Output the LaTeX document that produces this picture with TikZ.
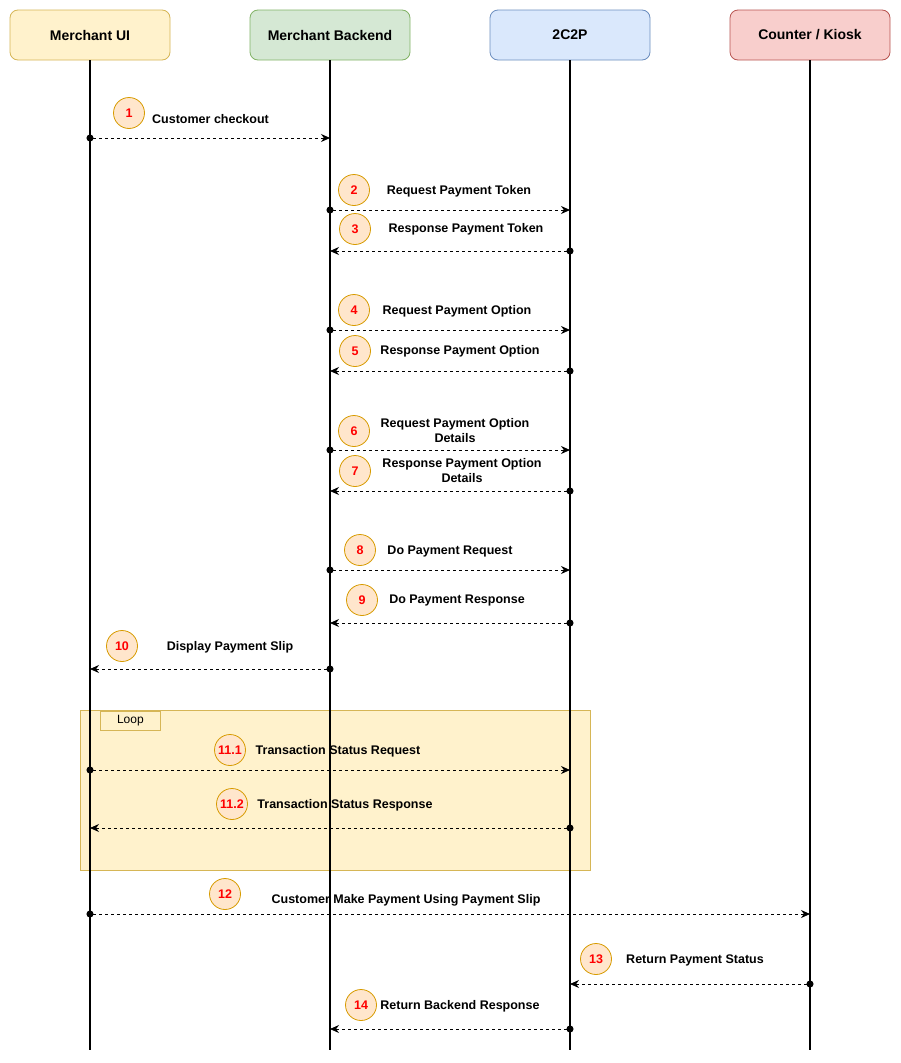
\documentclass[tikz,border=0pt]{standalone}
\usepackage{fontspec}
\setmainfont{Liberation Sans}
\usetikzlibrary{arrows.meta}

\definecolor{uifill}{HTML}{FFF2CC}
\definecolor{uidraw}{HTML}{D6B656}
\definecolor{mbfill}{HTML}{D5E8D4}
\definecolor{mbdraw}{HTML}{82B366}
\definecolor{pgfill}{HTML}{DAE8FC}
\definecolor{pgdraw}{HTML}{6C8EBF}
\definecolor{ckfill}{HTML}{F8CECC}
\definecolor{ckdraw}{HTML}{B85450}
\definecolor{badgefill}{HTML}{FFE6CC}
\definecolor{badgedraw}{HTML}{D79B00}

\tikzset{
    actor/.style={draw, rounded corners=8pt, minimum width=160pt, minimum height=50pt,
                  font=\fontsize{14}{16}\selectfont\bfseries, line width=0.8pt},
    life/.style={line width=1.6pt},
    msg/.style={dashed, dash pattern=on 3pt off 3pt, line width=0.8pt, shorten <=-3.5pt,
                {Circle[length=7pt]}-{Stealth[length=9pt,width=8pt]}},
    badge/.style={circle, draw=badgedraw, fill=badgefill, minimum size=31pt, inner sep=0pt,
                  line width=0.8pt, text=red, font=\fontsize{12.5}{14}\selectfont\bfseries},
    lbl/.style={align=center, inner sep=0pt, font=\fontsize{12.5}{15}\selectfont\bfseries}
}

\begin{document}
\begin{tikzpicture}[x=1pt, y=-1pt]
    \useasboundingbox[fill=white] (0,0) rectangle (901,1063);

    % loop frame
    \node[draw=uidraw, fill=uifill, line width=0.8pt, minimum width=510pt, minimum height=160pt,
          anchor=north west] (loop) at (80,710) {};
    \node[draw=uidraw, line width=0.8pt, minimum width=60pt, minimum height=19pt, inner sep=0pt,
          anchor=north west, font=\fontsize{12}{14}\selectfont] (looptab) at (100,711) {Loop};

    % actors
    \node[actor, fill=uifill, draw=uidraw] (ui) at (90,35) {Merchant UI};
    \node[actor, fill=mbfill, draw=mbdraw] (mb) at (330,35) {Merchant Backend};
    \node[actor, fill=pgfill, draw=pgdraw] (pg) at (570,35) {2C2P};
    \node[actor, fill=ckfill, draw=ckdraw] (ck) at (810,35) {Counter / Kiosk};

    % lifelines
    \foreach \a/\x in {ui/90, mb/330, pg/570, ck/810} {
        \coordinate (\a-end) at (\x,1050);
        \draw[life] (\a.south) -- (\a-end);
    }

    % messages
    \foreach \n/\from/\to/\y in {1/90/330/138, 2/330/570/210, 3/570/330/251,
                                 4/330/570/330, 5/570/330/371, 6/330/570/450,
                                 7/570/330/491, 8/330/570/570, 9/570/330/623,
                                 10/330/90/669, 11a/90/570/770, 11b/570/90/828,
                                 12/90/810/914, 13/810/570/984, 14/570/330/1029} {
        \coordinate (m\n-s) at (\from,\y);
        \coordinate (m\n-e) at (\to,\y);
        \draw[msg] (m\n-s) -- (m\n-e);
    }

    % badges
    \node[badge] (b1) at (129,113) {1};
    \node[badge] (b2) at (354,190) {2};
    \node[badge] (b3) at (355,229) {3};
    \node[badge] (b4) at (354,310) {4};
    \node[badge] (b5) at (355,351) {5};
    \node[badge] (b6) at (354,431) {6};
    \node[badge] (b7) at (355,471) {7};
    \node[badge] (b8) at (360,550) {8};
    \node[badge] (b9) at (362,600) {9};
    \node[badge] (b10) at (122,646) {10};
    \node[badge] (b11a) at (230,750) {11.1};
    \node[badge] (b11b) at (232,804) {11.2};
    \node[badge] (b12) at (225,894) {12};
    \node[badge] (b13) at (596,959) {13};
    \node[badge] (b14) at (361,1005) {14};

    % labels
    \node[lbl, anchor=west] (t1) at (152,119) {Customer checkout};
    \node[lbl] (t2) at (459,191) {Request Payment Token};
    \node[lbl] (t3) at (466,229) {Response Payment Token};
    \node[lbl] (t4) at (457,311) {Request Payment Option};
    \node[lbl] (t5) at (460,351) {Response Payment Option};
    \node[lbl] (t6) at (455,431) {Request Payment Option\\Details};
    \node[lbl] (t7) at (462,471) {Response Payment Option\\Details};
    \node[lbl] (t8) at (450,551) {Do Payment Request};
    \node[lbl] (t9) at (457,600) {Do Payment Response};
    \node[lbl] (t10) at (230,647) {Display Payment Slip};
    \node[lbl] (t11a) at (338,751) {Transaction Status Request};
    \node[lbl] (t11b) at (345,805) {Transaction Status Response};
    \node[lbl] (t12) at (406,900) {Customer Make Payment Using Payment Slip};
    \node[lbl] (t13) at (695,960) {Return Payment Status};
    \node[lbl] (t14) at (460,1006) {Return Backend Response};
\end{tikzpicture}
\end{document}
